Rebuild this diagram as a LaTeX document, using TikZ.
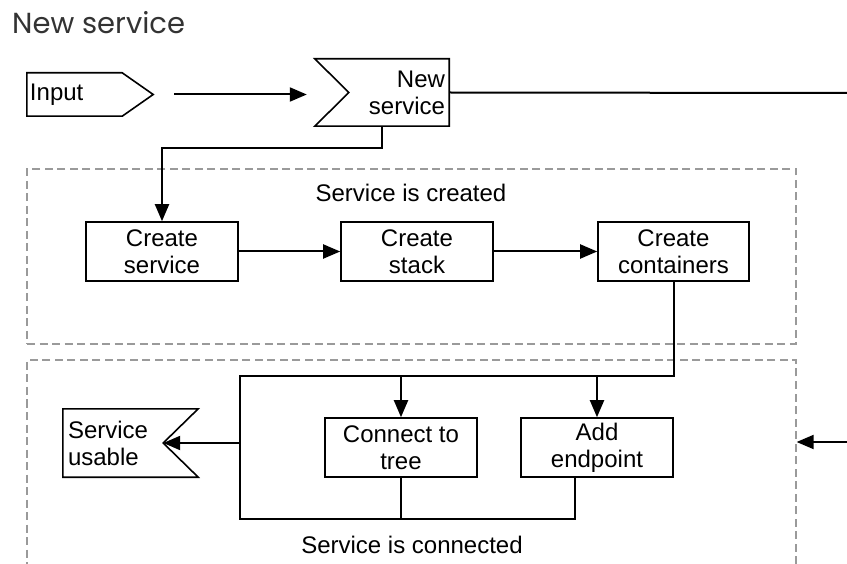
\documentclass[tikz,border=0pt]{standalone}
\usepackage{fontspec}
\setmainfont{Liberation Sans}
\newfontfamily\titlefont{Poppins}
\usetikzlibrary{arrows.meta}
\definecolor{groupgray}{HTML}{9A9A9A}
\definecolor{titlegray}{HTML}{333333}
\begin{document}
\begin{tikzpicture}[x=1pt,y=-1pt,
  txt/.style={font=\fontsize{24}{27}\selectfont},
  lbl/.style={txt, inner sep=0pt},
  stepbox/.style={txt, draw, line width=1.6pt, minimum width=152pt, minimum height=59pt,
    align=center, inner sep=0pt},
  plate/.style={txt, inner ysep=0pt},
  outline/.style={line width=1.6pt, line join=miter},
  conn/.style={line width=2pt},
  arrow/.style={conn, -{Triangle[length=17pt,width=14pt]}},
  group/.style={draw=groupgray, line width=1.3pt, dash pattern=on 8pt off 4.5pt, inner sep=0pt}
]
\path[clip] (0,0) rectangle (847,564);

% heading
\node[anchor=base west, inner sep=0pt, text=titlegray,
      font=\titlefont\fontsize{29}{32}\selectfont] (title) at (12,34) {New service};

% dashed stage frames
\node[group, minimum width=769pt, minimum height=175pt] (created) at (411.5,256.5) {};
\node[group, minimum width=769pt, minimum height=260pt] (connected) at (411.5,490) {};
\node[lbl] (createdlbl) at (411,193) {Service is created};
\node[lbl] (connectedlbl) at (412,545) {Service is connected};

% event shapes
\node[plate, minimum width=126pt, minimum height=43pt, inner xsep=3pt,
      text width=120pt, align=left] (input) at (90,94.5) {Input};
\draw[outline] (input.north west) -- ([xshift=-31pt]input.north east) -- (input.east)
  -- ([xshift=-31pt]input.south east) -- (input.south west) -- cycle;

\node[plate, minimum width=134pt, minimum height=67pt, inner xsep=4pt,
      text width=126pt, align=right] (new) at (382,92.5) {New\\service};
\draw[outline] (new.north west) -- (new.north east) -- (new.south east)
  -- (new.south west) -- ([xshift=34pt]new.west) -- cycle;

\node[plate, minimum width=135pt, minimum height=68pt, inner xsep=5pt,
      text width=125pt, align=left] (usable) at (130.5,443) {Service\\usable};
\draw[outline] (usable.north west) -- (usable.north east) -- ([xshift=-35pt]usable.east)
  -- (usable.south east) -- (usable.south west) -- cycle;

% process steps
\node[stepbox] (csvc) at (162,251.5) {Create\\service};
\node[stepbox] (cstack) at (417,251.5) {Create\\stack};
\node[stepbox, minimum width=151pt] (ccont) at (673.5,251.5) {Create\\containers};
\node[stepbox] (ctree) at (401,447.5) {Connect to\\tree};
\node[stepbox] (addep) at (597,447.5) {Add\\endpoint};

% connectors
\coordinate (edgeR) at (847,93);
\coordinate (edgeIn) at (847,442);
\coordinate (loopTL) at (240,376);
\coordinate (loopBL) at (240,519);

\draw[arrow] ([xshift=21pt]input.east) -- ([xshift=-8pt]input.east -| new.west);
\draw[conn] (new.east) -- (edgeR);
\draw[arrow] (new.south) -- ++(0,22) -| (csvc.north);
\draw[arrow] (csvc) -- (cstack);
\draw[arrow] (cstack) -- (ccont);
\draw[conn] (ccont.south) |- (loopTL) -- (loopBL) -| ([xshift=-22pt]addep.south);
\draw[arrow] (ctree.north |- loopTL) -- (ctree.north);
\draw[arrow] (addep.north |- loopTL) -- (addep.north);
\draw[conn, line width=1.5pt] (ctree.south) -- (ctree.south |- loopBL);
\draw[arrow] (loopTL |- usable.east) -- ([xshift=-35pt]usable.east);
\draw[arrow] (edgeIn) -- (edgeIn -| connected.east);
\end{tikzpicture}
\end{document}
